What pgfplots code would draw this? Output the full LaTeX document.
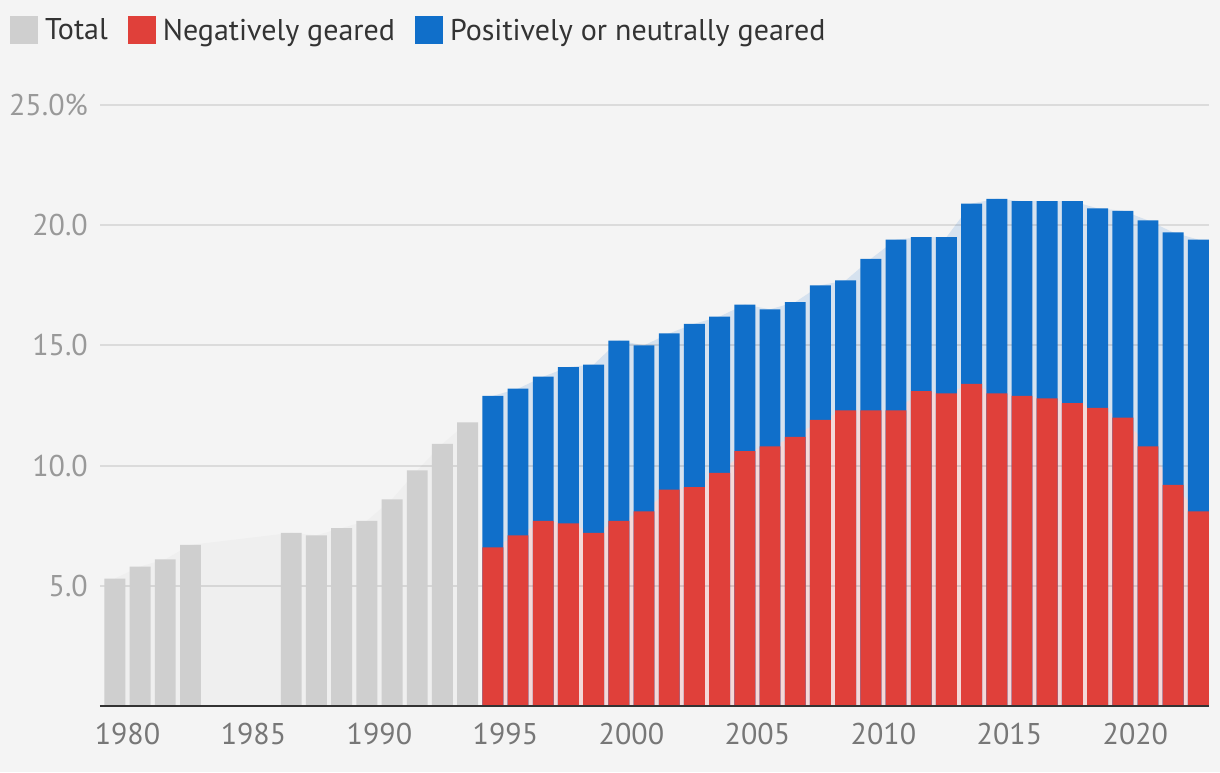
\documentclass[border=0pt]{standalone}
\usepackage{pgfplots}
\pgfplotsset{compat=1.18}
\usepackage{pgfplotstable}
\usepackage{fontspec}
\setmainfont{PT Sans}
\definecolor{bg}{HTML}{F4F4F4}
\definecolor{totgrey}{HTML}{CFCFCF}
\definecolor{negred}{HTML}{E0403A}
\definecolor{posblue}{HTML}{106FCA}
\definecolor{greyarea}{HTML}{EFEFEF}
\definecolor{bluearea}{HTML}{D6E2EF}
\definecolor{redarea}{HTML}{F4D9D9}
\definecolor{axisc}{HTML}{333333}
\definecolor{ytickc}{HTML}{999999}
\definecolor{xtickc}{HTML}{777777}
\definecolor{legtext}{HTML}{333333}

% Total share, years before the split
\pgfplotstableread{
x v
1979.5 5.3
1980.5 5.8
1981.5 6.1
1982.5 6.7
1986.5 7.2
1987.5 7.1
1988.5 7.4
1989.5 7.7
1990.5 8.6
1991.5 9.8
1992.5 10.9
1993.5 11.8
}\greydata

% Total (negative + positive/neutral) and negatively geared
\pgfplotstableread{
x tot neg
1994.5 12.9 6.6
1995.5 13.2 7.1
1996.5 13.7 7.7
1997.5 14.1 7.6
1998.5 14.2 7.2
1999.5 15.2 7.7
2000.5 15.0 8.1
2001.5 15.5 9.0
2002.5 15.9 9.1
2003.5 16.2 9.7
2004.5 16.7 10.6
2005.5 16.5 10.8
2006.5 16.8 11.2
2007.5 17.5 11.9
2008.5 17.7 12.3
2009.5 18.6 12.3
2010.5 19.4 12.3
2011.5 19.5 13.1
2012.5 19.5 13.0
2013.5 20.9 13.4
2014.5 21.1 13.0
2015.5 21.0 12.9
2016.5 21.0 12.8
2017.5 21.0 12.6
2018.5 20.7 12.4
2019.5 20.6 12.0
2020.5 20.2 10.8
2021.5 19.7 9.2
2022.5 19.4 8.1
}\splitdata

\begin{document}
\begin{tikzpicture}
\fill[bg] (-100pt,-66pt) rectangle (1120pt,706pt);
\useasboundingbox (-100pt,-66pt) rectangle (1120pt,706pt);
\begin{axis}[
  at={(0pt,0pt)}, anchor=south west,
  scale only axis, width=1109pt, height=601pt,
  xmin=1978.91, xmax=2022.92, ymin=0, ymax=25,
  axis line style={draw=none},
  major tick length=0pt,
  xtick={1980,1985,1990,1995,2000,2005,2010,2015,2020},
  xticklabels={1980,1985,1990,1995,2000,2005,2010,2015,2020},
  ytick={5,10,15,20,25},
  yticklabels={5.0,10.0,15.0,20.0,25.0\%},
  /pgf/number format/assume math mode=true,
  every tick label/.append style={inner sep=0pt, font=\fontsize{30}{30}\selectfont},
  xticklabel style={text=xtickc, anchor=north, yshift=-17pt},
  yticklabel style={text=ytickc, anchor=east, xshift=-12pt},
  legend columns=-1,
  legend style={at={(axis description cs:-0.0812,1.1481)}, anchor=north west,
    draw=none, fill=none, inner sep=0pt, text=legtext,
    font=\fontsize{30}{30}\selectfont,
    nodes={inner sep=0pt},
    /tikz/every odd column/.append style={column sep=7pt},
    /tikz/every even column/.append style={column sep=20pt}},
  legend image code/.code={\fill[#1] (0pt,-14pt) rectangle (28pt,14pt);},
]
\addlegendimage{fill=totgrey, draw=none}
\addlegendentry{Total}
\addlegendimage{fill=negred, draw=none}
\addlegendentry{Negatively geared}
\addlegendimage{fill=posblue, draw=none}
\addlegendentry{Positively or neutrally geared}

% faint areas behind the bars
\addplot[forget plot, fill=greyarea, draw=none] table[x=x, y=v] {\greydata} \closedcycle;
\addplot[forget plot, fill=bluearea, draw=none] table[x=x, y=tot] {\splitdata} \closedcycle;
\addplot[forget plot, fill=redarea, draw=none] table[x=x, y=neg] {\splitdata} \closedcycle;

% grid lines
\pgfplotsinvokeforeach{5,10,15,20,25}{
  \draw[black, opacity=0.1, line width=2pt] (axis cs:1978.91,#1) -- (axis cs:2022.92,#1);
}

% bars
\addplot[forget plot, ybar, bar width=0.83, bar shift=0pt, fill=totgrey, draw=none] table[x=x, y=v] {\greydata};
\addplot[forget plot, ybar, bar width=0.83, bar shift=0pt, fill=posblue, draw=none] table[x=x, y=tot] {\splitdata};
\addplot[forget plot, ybar, bar width=0.83, bar shift=0pt, fill=negred, draw=none] table[x=x, y=neg] {\splitdata};

\draw[axisc, line width=2.5pt] (rel axis cs:0,0) -- (rel axis cs:1,0);
\end{axis}
\end{tikzpicture}
\end{document}
